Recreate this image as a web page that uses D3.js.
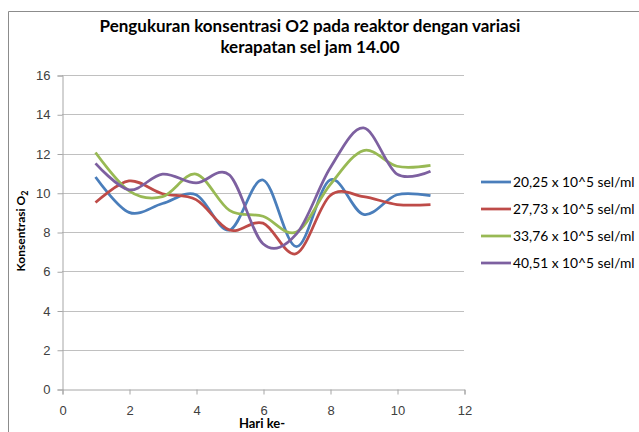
<!doctype html>
<html lang="id">

<head>
  <meta charset="utf-8">
  <style>
    body { margin: 0; background: #fff; }
    svg { display: block; font-family: Lato, "Open Sans", sans-serif; }
  </style>
</head>

<body>
  <script src="https://d3js.org/d3.v7.min.js" charset="utf-8"></script>
  <div id="chart"></div>

  <script>
    // data
    var days = [1, 2, 3, 4, 5, 6, 7, 8, 9, 10, 11];
    var seriesNames = ["20,25 x 10^5 sel/ml", "27,73 x 10^5 sel/ml", "33,76 x 10^5 sel/ml", "40,51 x 10^5 sel/ml"];
    var blue = [10.8, 9.0, 9.45, 9.9, 8.1, 10.65, 7.25, 10.65, 8.9, 9.9, 9.85];
    var red = [9.5, 10.6, 9.95, 9.65, 8.1, 8.45, 6.9, 9.85, 9.8, 9.4, 9.4];
    var green = [12.05, 10.1, 9.8, 10.95, 9.1, 8.8, 8.0, 10.4, 12.15, 11.35, 11.4];
    var purple = [11.5, 10.15, 10.95, 10.5, 10.9, 7.4, 7.9, 11.25, 13.3, 10.95, 11.1];
    var colors = ["#4a7ebb", "#be4b48", "#98b954", "#7d60a0"];
    var xTicks = [0, 2, 4, 6, 8, 10, 12];
    var yTicks = [0, 2, 4, 6, 8, 10, 12, 14, 16];

    var width = 639, height = 432;
    var svg = d3.select("#chart").append("svg")
      .attr("width", width)
      .attr("height", height);

    // chart frame (only top and left edges show)
    svg.append("path")
      .attr("d", "M8.5,432 V11.5 H639")
      .attr("fill", "none")
      .attr("stroke", "#8c8c8c")
      .attr("stroke-width", 1);

    var x = d3.scaleLinear().domain([0, 12]).range([62, 464]);
    var y = d3.scaleLinear().domain([0, 16]).range([389, 75]);

    // gridlines
    svg.append("g").selectAll("line")
      .data(yTicks.filter(d => d > 0))
      .enter().append("line")
      .attr("x1", x(0)).attr("x2", x(12))
      .attr("y1", d => Math.round(y(d)) + 0.5)
      .attr("y2", d => Math.round(y(d)) + 0.5)
      .attr("stroke", "#c0c0c0")
      .attr("stroke-width", 1);

    // y axis
    var yAxis = svg.append("g")
      .attr("transform", "translate(62.5,0.5)")
      .call(d3.axisLeft(y).tickValues(yTicks).tickSize(5).tickPadding(7).tickFormat(d3.format("d")));
    yAxis.select(".domain").attr("stroke", "#a6a6a6");
    yAxis.selectAll(".tick line").attr("stroke", "#a6a6a6");
    yAxis.selectAll("text").attr("fill", "#404040").style("font-size", "13px");

    // x axis
    var xAxis = svg.append("g")
      .attr("transform", "translate(0.5," + (Math.round(y(0)) + 0.5) + ")")
      .call(d3.axisBottom(x).tickValues(xTicks).tickSize(5).tickPadding(11).tickFormat(d3.format("d")));
    xAxis.select(".domain").attr("stroke", "#a6a6a6");
    xAxis.selectAll(".tick line").attr("stroke", "#a6a6a6");
    xAxis.selectAll("text").attr("fill", "#404040").style("font-size", "13px");

    // smoothed lines like the spreadsheet chart
    var line = d3.line()
      .x(d => x(d[0]))
      .y(d => y(d[1]))
      .curve(d3.curveCatmullRom.alpha(0));

    var allSeries = [blue, red, green, purple];
    allSeries.forEach(function (vals, i) {
      svg.append("path")
        .datum(days.map((d, j) => [d, vals[j]]))
        .attr("d", line)
        .attr("fill", "none")
        .attr("stroke", colors[i])
        .attr("stroke-width", 2.75)
        .attr("stroke-linejoin", "round");
    });

    // title
    var title = svg.append("text")
      .attr("text-anchor", "middle")
      .attr("font-weight", "bold")
      .style("font-size", "17px")
      .attr("fill", "#000");
    title.append("tspan").attr("x", 310).attr("y", 32).text("Pengukuran konsentrasi O2 pada reaktor dengan variasi");
    title.append("tspan").attr("x", 310).attr("y", 53).text("kerapatan sel jam 14.00");

    // axis titles
    var yTitle = svg.append("text")
      .attr("transform", "translate(25,231) rotate(-90)")
      .attr("text-anchor", "middle")
      .attr("font-weight", "bold")
      .style("font-size", "12px");
    yTitle.append("tspan").text("Konsentrasi O");
    yTitle.append("tspan").attr("dy", 3).style("font-size", "9px").text("2");

    svg.append("text")
      .attr("x", 262).attr("y", 428)
      .attr("text-anchor", "middle")
      .attr("font-weight", "bold")
      .style("font-size", "13px")
      .text("Hari ke-");

    // legend
    var legend = svg.append("g");
    var legendY = [182, 209, 236, 263];
    seriesNames.forEach(function (name, i) {
      legend.append("line")
        .attr("x1", 481).attr("x2", 511)
        .attr("y1", legendY[i]).attr("y2", legendY[i])
        .attr("stroke", colors[i])
        .attr("stroke-width", 2.75);
      legend.append("text")
        .attr("x", 513).attr("y", legendY[i] + 5)
        .style("font-size", "13.8px")
        .attr("fill", "#000")
        .text(name);
    });
  </script>
</body>

</html>
